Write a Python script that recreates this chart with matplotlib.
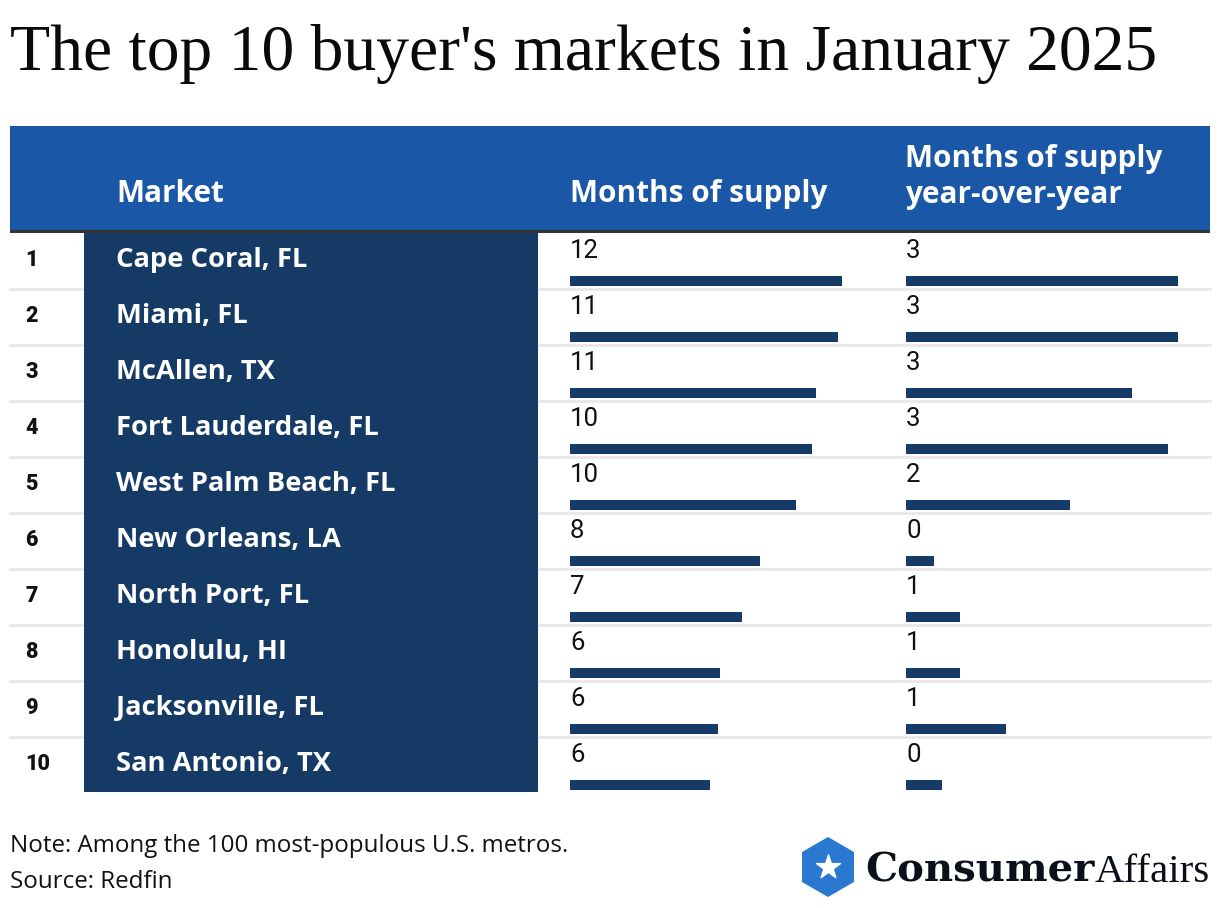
import matplotlib.pyplot as plt
from matplotlib.patches import Rectangle, RegularPolygon

# data
ranks = ['1', '2', '3', '4', '5', '6', '7', '8', '9', '10']
markets = ['Cape Coral, FL', 'Miami, FL', 'McAllen, TX', 'Fort Lauderdale, FL',
           'West Palm Beach, FL', 'New Orleans, LA', 'North Port, FL',
           'Honolulu, HI', 'Jacksonville, FL', 'San Antonio, TX']
supply = [11.65, 11.48, 10.54, 10.36, 9.68, 8.14, 7.37, 6.42, 6.34, 6.0]
supply_labels = ['12', '11', '11', '10', '10', '8', '7', '6', '6', '6']
yoy = [3.2, 3.2, 2.66, 3.08, 1.93, 0.33, 0.64, 0.64, 1.18, 0.42]
yoy_labels = ['3', '3', '3', '3', '2', '0', '1', '1', '1', '0']

W, H = 1220, 908
HEADER_BLUE = '#1a57a6'
NAVY = '#163a66'
SANS = ['Open Sans', 'DejaVu Sans']
SERIF = ['Liberation Serif', 'DejaVu Serif']

fig = plt.figure(figsize=(W / 100, H / 100), dpi=100)
renderer = fig.canvas.get_renderer()


def fit_size(s, target_px, family, weight='normal'):
    # font size that makes string s about target_px wide
    t = fig.text(0, 0, s, fontsize=10, family=family, fontweight=weight)
    w = t.get_window_extent(renderer).width
    t.remove()
    return 10 * target_px / w


# background axes in pixel coordinates
bg = fig.add_axes([0, 0, 1, 1])
bg.set_xlim(0, W)
bg.set_ylim(H, 0)
bg.axis('off')

title = "The top 10 buyer's markets in January 2025"
bg.text(10, 70, title, fontsize=fit_size(title, 1148, SERIF),
        family=SERIF, va='baseline', ha='left', color='#0a0a0a')

# header band
bg.add_patch(Rectangle((10, 126), 1200, 104, color=HEADER_BLUE, lw=0))
bg.add_patch(Rectangle((10, 230), 1200, 3, color='#333333', lw=0))
hdr_size = fit_size('Months of supply', 258, SANS, 'bold')
hdr = dict(color='white', fontsize=hdr_size, fontweight='bold', family=SANS, va='center', ha='left')
bg.text(116, 194, 'Market', **hdr)
bg.text(570, 194, 'Months of supply', **hdr)
bg.text(905, 177, 'Months of supply\nyear-over-year', linespacing=1.3, **hdr)

# table rows: y in row units
row_top, row_h = 233, 56
n = len(markets)
name_size = fit_size('West Palm Beach, FL', 280, SANS, 'bold')
tab = fig.add_axes([0, 1 - (row_top + n * row_h) / H, 1, n * row_h / H])
tab.set_xlim(0, W)
tab.set_ylim(n, 0)
tab.axis('off')
tab.add_patch(Rectangle((84, 0), 454, n - 0.02, color=NAVY, lw=0, zorder=1))
for i in range(1, n):
    tab.axhline(i, xmin=10 / W, xmax=1210 / W, color='#e8e8e8', lw=2, zorder=0)
for i, (r, m) in enumerate(zip(ranks, markets)):
    tab.text(25, i + 0.48, r, fontsize=15.5, fontweight='black', family=['Roboto', 'DejaVu Sans'],
             va='center', ha='left', color='#111111')
    tab.text(116, i + 0.48, m, fontsize=name_size, fontweight='bold', family=SANS,
             va='center', ha='left', color='white', zorder=2)


def bar_column(x0, width_px, vmax, values, labels):
    ax = fig.add_axes([x0 / W, 1 - (row_top + n * row_h) / H, width_px / W, n * row_h / H])
    ax.set_xlim(0, vmax)
    ax.set_ylim(n, 0)
    ax.axis('off')
    pos = [i + 0.857 for i in range(n)]
    ax.barh(pos, values, height=0.18, left=0, color=NAVY)
    for i, lab in enumerate(labels):
        ax.text(0, i + 0.32, lab, fontsize=18.5, family=['Roboto', 'DejaVu Sans'],
                va='center', ha='left', color='#111111')


bar_column(570, 280, 12, supply, supply_labels)
bar_column(906, 297.5, 3.5, yoy, yoy_labels)

# footer
note = 'Note: Among the 100 most-populous U.S. metros.'
foot = dict(fontsize=fit_size(note, 557, SANS), family=SANS, va='center', ha='left', color='#111111')
bg.text(10, 846, note, **foot)
bg.text(10, 882, 'Source: Redfin', **foot)

# logo
bg.add_patch(RegularPolygon((828, 867), 6, radius=30, orientation=0, color='#2a78d0', lw=0))
bg.scatter([828], [867], marker='*', s=330, color='white', zorder=5)
logo_size = fit_size('Consumer', 230, ['DejaVu Serif'], 'heavy')
t1 = bg.text(865, 882, 'Consumer', fontsize=logo_size, fontweight='heavy',
             family=['DejaVu Serif'], va='baseline', ha='left', color='#0a0f1a')
bb = t1.get_window_extent(renderer)
x_end = bg.transData.inverted().transform((bb.x1, bb.y0))[0]
bg.text(x_end, 882, 'Affairs', fontsize=fit_size('Affairs', 1210 - x_end, SERIF),
        family=SERIF, va='baseline', ha='left', color='#0a0f1a')

fig.savefig('out.png', dpi=100)
